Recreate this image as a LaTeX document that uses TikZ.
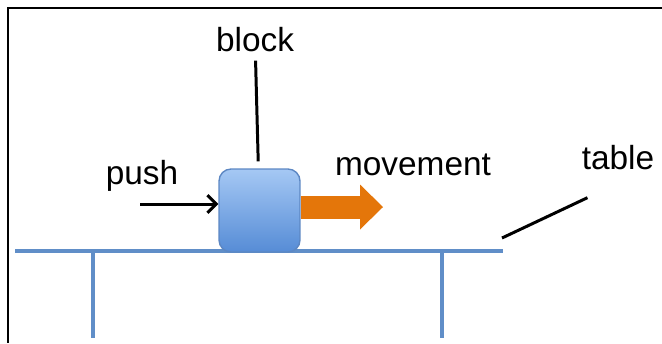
\documentclass[tikz,border=0pt]{standalone}
\usepackage{fontspec}
\setmainfont{Liberation Sans}
\usetikzlibrary{arrows.meta}
\usetikzlibrary{positioning}

\definecolor{tableblue}{RGB}{96,142,200}
\definecolor{blockedge}{RGB}{92,135,195}
\definecolor{blocktop}{RGB}{165,200,244}
\definecolor{blockbot}{RGB}{86,140,214}
\definecolor{moveorange}{RGB}{228,118,10}

\begin{document}
\begin{tikzpicture}[x=0.02cm, y=-0.02cm,
  lbl/.style={inner sep=0pt, anchor=base, font=\fontsize{19}{23}\selectfont},
  leader/.style={line width=1.7pt},
  tableline/.style={tableblue, line width=1.8pt}]
\useasboundingbox (0,0) rectangle (662,343);

% Frame
\draw[line width=1.4pt] (662,8) -- (8,8) -- (8,343);

% Table
\draw[tableline] (15,251) -- (503,251);
\draw[tableline] (93,251) -- (93,338);
\draw[tableline] (442,251) -- (442,338);

% Nodes
\node[rectangle, draw=blockedge, line width=0.8pt, rounded corners=0.24cm,
  top color=blocktop, bottom color=blockbot,
  minimum width=1.62cm, minimum height=1.66cm] at (259.5,210.5) (blk) {};
\node[lbl, inner sep=0.18cm] at (255,51) (blklbl) {block};
\node[lbl] at (142,184) (pushlbl) {push};
\node[lbl] at (413,175) (movelbl) {movement};
\node[lbl] at (618,169) (tbllbl) {table};
\coordinate (pushfrom) at (140,204);
\coordinate (movetip) at (383,207);
\coordinate (tblfoot) at (502,238);

% Lines
\draw[leader, shorten >=0.14cm] (blklbl) -- (blk);
\draw[leader, -{Straight Barb[length=5pt, width=10pt]}] (pushfrom) -- (pushfrom -| blk.west);
\draw[moveorange, line width=0.46cm, -{Triangle[length=0.46cm, width=0.9cm, line width=0pt]}] (blk.east |- movetip) -- (movetip);
\draw[leader] (tblfoot) -- ([xshift=0.12cm, yshift=-0.56cm]tbllbl.south west);

\end{tikzpicture}
\end{document}
